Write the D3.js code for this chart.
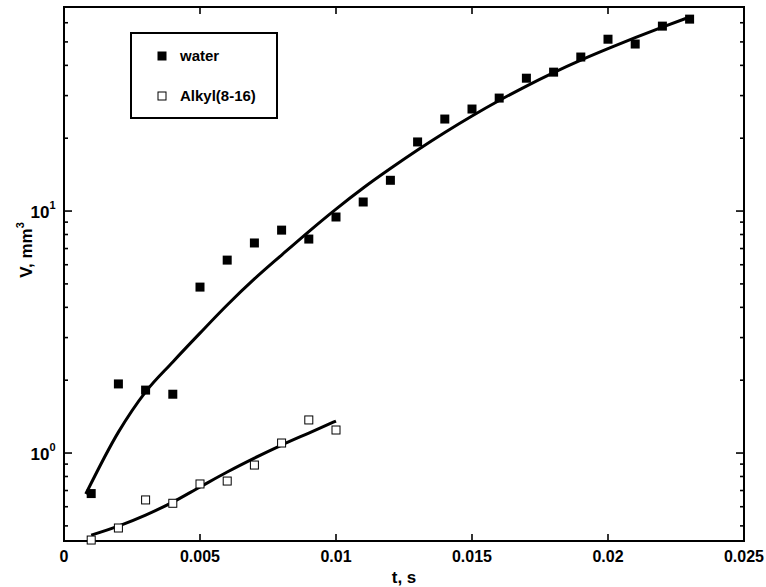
<!DOCTYPE html>
<html>
<head>
<meta charset="utf-8">
<script src="https://cdn.jsdelivr.net/npm/d3@7"></script>
<style>
  body { margin: 0; background: #fff; }
  text { font-family: "Liberation Sans", Arial, sans-serif; font-weight: bold; fill: #000; }
</style>
</head>
<body>
<script>
// measured points, t in seconds, V in mm^3
var tWater = [0.001, 0.002, 0.003, 0.004, 0.005, 0.006, 0.007, 0.008, 0.009, 0.010, 0.011, 0.012,
              0.013, 0.014, 0.015, 0.016, 0.017, 0.018, 0.019, 0.020, 0.021, 0.022, 0.023];
var vWater = [0.68, 1.93, 1.82, 1.75, 4.85, 6.27, 7.38, 8.34, 7.66, 9.45, 10.9, 13.4,
              19.3, 24.0, 26.4, 29.3, 35.4, 37.5, 43.3, 51.3, 49.0, 58.1, 62.1];

var tAlkyl = [0.001, 0.002, 0.003, 0.004, 0.005, 0.006, 0.007, 0.008, 0.009, 0.010];
var vAlkyl = [0.437, 0.49, 0.64, 0.62, 0.745, 0.766, 0.892, 1.10, 1.37, 1.245];

// fitted curves
var tWaterFit = [0.0008, 0.002, 0.003, 0.004, 0.005, 0.006, 0.007, 0.008, 0.009, 0.010, 0.011, 0.012,
                 0.013, 0.014, 0.015, 0.016, 0.017, 0.018, 0.019, 0.020, 0.021, 0.022, 0.023];
var vWaterFit = [0.677, 1.22, 1.79, 2.38, 3.13, 4.09, 5.24, 6.58, 8.23, 10.19, 12.45, 14.98,
                 17.87, 21.11, 24.7, 28.62, 32.85, 37.35, 42.07, 46.94, 52.12, 57.59, 63.35];

var tAlkylFit = [0.001, 0.002, 0.003, 0.004, 0.005, 0.006, 0.007, 0.008, 0.009, 0.010];
var vAlkylFit = [0.458, 0.499, 0.554, 0.627, 0.724, 0.835, 0.953, 1.079, 1.21, 1.356];

var xTicks = [0, 0.005, 0.01, 0.015, 0.02, 0.025];
var xTickLabels = ["0", "0.005", "0.01", "0.015", "0.02", "0.025"];
var yMajor = [1, 10];
var yMinor = [0.5, 0.6, 0.7, 0.8, 0.9, 2, 3, 4, 5, 6, 7, 8, 9, 20, 30, 40, 50, 60];

var legendNames = ["water", "Alkyl(8-16)"];

var width = 766, height = 587;
var margin = { top: 7, right: 22, bottom: 46, left: 64 };

var svg = d3.select("body").append("svg")
    .attr("width", width)
    .attr("height", height);

var x = d3.scaleLinear()
    .domain([0, 0.025])
    .range([margin.left, width - margin.right]);

var y = d3.scaleLog()
    .domain([0.433, 69.7])
    .range([height - margin.bottom, margin.top]);

var x0 = x.range()[0], x1 = x.range()[1];
var y0 = y.range()[0], y1 = y.range()[1];

// ticks, all pointing inward
var ticks = svg.append("g").attr("stroke", "#000").attr("stroke-width", 1.6);
xTicks.slice(1, -1).forEach(function(t) {
    ticks.append("line").attr("x1", x(t)).attr("x2", x(t)).attr("y1", y0).attr("y2", y0 - 7);
    ticks.append("line").attr("x1", x(t)).attr("x2", x(t)).attr("y1", y1).attr("y2", y1 + 7);
});
yMajor.forEach(function(v) {
    ticks.append("line").attr("x1", x0).attr("x2", x0 + 8).attr("y1", y(v)).attr("y2", y(v));
    ticks.append("line").attr("x1", x1).attr("x2", x1 - 8).attr("y1", y(v)).attr("y2", y(v));
});
yMinor.forEach(function(v) {
    ticks.append("line").attr("x1", x0).attr("x2", x0 + 4).attr("y1", y(v)).attr("y2", y(v));
    ticks.append("line").attr("x1", x1).attr("x2", x1 - 4).attr("y1", y(v)).attr("y2", y(v));
});

// frame
svg.append("rect")
    .attr("x", x0).attr("y", y1)
    .attr("width", x1 - x0).attr("height", y0 - y1)
    .attr("fill", "none").attr("stroke", "#000").attr("stroke-width", 2);

// x tick labels
svg.append("g")
    .selectAll("text")
    .data(xTicks)
    .join("text")
    .attr("x", d => x(d))
    .attr("y", y0 + 21)
    .attr("text-anchor", "middle")
    .style("font-size", "16px")
    .text((d, i) => xTickLabels[i]);

// y tick labels 10^n
var yl = svg.append("g")
    .selectAll("text")
    .data(yMajor)
    .join("text")
    .attr("x", x0 - 21)
    .attr("y", d => y(d) + 7)
    .attr("text-anchor", "middle")
    .style("font-size", "17px");
yl.append("tspan").text("10");
yl.append("tspan")
    .attr("dy", -9)
    .style("font-size", "11px")
    .text(d => Math.round(Math.log10(d)));

// axis titles
svg.append("text")
    .attr("x", (x0 + x1) / 2)
    .attr("y", height - 4)
    .attr("text-anchor", "middle")
    .style("font-size", "17px")
    .text("t, s");

var ytitle = svg.append("text")
    .attr("transform", "translate(32," + ((y0 + y1) / 2 - 24) + ") rotate(-90)")
    .attr("text-anchor", "middle")
    .style("font-size", "17px");
ytitle.append("tspan").text("V, mm");
ytitle.append("tspan").attr("dy", -8).style("font-size", "11px").text("3");

// fitted lines
var line = d3.line()
    .x(d => x(d[0]))
    .y(d => y(d[1]))
    .curve(d3.curveMonotoneX);

svg.append("path")
    .datum(d3.zip(tWaterFit, vWaterFit))
    .attr("d", line)
    .attr("fill", "none").attr("stroke", "#000").attr("stroke-width", 3);

svg.append("path")
    .datum(d3.zip(tAlkylFit, vAlkylFit))
    .attr("d", line)
    .attr("fill", "none").attr("stroke", "#000").attr("stroke-width", 3);

// markers
var sq = 9;
svg.append("g")
    .selectAll("rect")
    .data(d3.zip(tWater, vWater))
    .join("rect")
    .attr("x", d => x(d[0]) - sq / 2)
    .attr("y", d => y(d[1]) - sq / 2)
    .attr("width", sq).attr("height", sq)
    .attr("fill", "#000");

svg.append("g")
    .selectAll("rect")
    .data(d3.zip(tAlkyl, vAlkyl))
    .join("rect")
    .attr("x", d => x(d[0]) - (sq - 1) / 2)
    .attr("y", d => y(d[1]) - (sq - 1) / 2)
    .attr("width", sq - 1).attr("height", sq - 1)
    .attr("fill", "#fff").attr("stroke", "#000").attr("stroke-width", 1);

// legend box
var lg = svg.append("g").attr("transform", "translate(131,33)");
lg.append("rect")
    .attr("width", 146).attr("height", 85)
    .attr("fill", "#fff").attr("stroke", "#000").attr("stroke-width", 2);
lg.selectAll("g.item")
    .data(legendNames)
    .join("g")
    .attr("class", "item")
    .attr("transform", (d, i) => "translate(0," + (23 + i * 40) + ")")
    .each(function(d, i) {
        var g = d3.select(this);
        g.append("rect")
            .attr("x", 27).attr("y", -4)
            .attr("width", 8).attr("height", 8)
            .attr("fill", i == 0 ? "#000" : "#fff")
            .attr("stroke", "#000").attr("stroke-width", 1);
        g.append("text")
            .attr("x", 49).attr("y", 5)
            .style("font-size", "15px")
            .text(d);
    });
</script>
</body>
</html>
